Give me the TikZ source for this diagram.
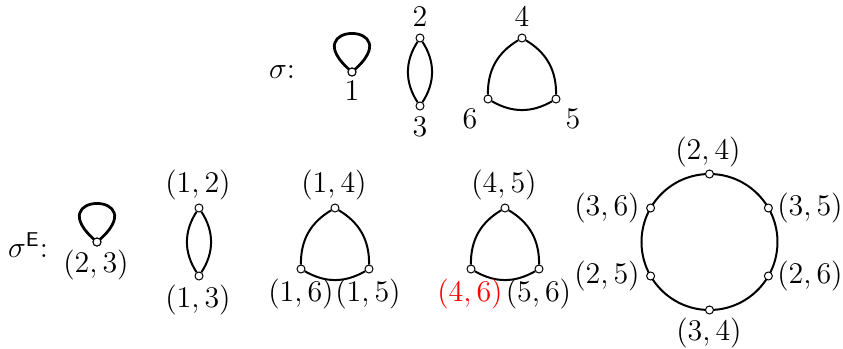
\documentclass[tikz,border=0pt]{standalone}
\usetikzlibrary{calc}
\begin{document}
\begin{tikzpicture}[x=0.4pt,y=-0.4pt,
  font=\fontsize{12}{14}\selectfont,
  vtx/.style={circle,draw,fill=white,inner sep=0pt,minimum size=3.2pt,line width=0.4pt},
  edge/.style={line width=0.8pt},
  loopedge/.style={line width=1.1pt},
  lbl/.style={inner sep=0pt}]
\useasboundingbox (0,0) rectangle (843,348);
% ---------- top row ----------
\node[lbl] (sig) at (282,72) {$\sigma$:};
% loop 1
\node[vtx] (a1) at (352,72) {};
\draw[loopedge] (a1.center) .. controls +(-140:80) and +(-40:80) .. (a1.center);
\node[vtx] at (a1) {};
\node[lbl] (l1) at (352,91) {$1$};
% digon 2-3
\node[vtx] (a2) at (420,38) {};
\node[vtx] (a3) at (420,106) {};
\draw[edge] (a2) to[bend right=33] (a3);
\draw[edge] (a2) to[bend left=33] (a3);
\node[lbl] (l2) at (420,17) {$2$};
\node[lbl] (l3) at (420,127) {$3$};
% triangle 4-5-6
\node[vtx] (a4) at (522,38) {};
\node[vtx] (a6) at (488,99) {};
\node[vtx] (a5) at (556,99) {};
\draw[edge] (a4) to[bend right=30] (a6);
\draw[edge] (a6) to[bend right=30] (a5);
\draw[edge] (a5) to[bend right=30] (a4);
\node[lbl] (l4) at (522,17) {$4$};
\node[lbl] (l6) at (470,119) {$6$};
\node[lbl] (l5) at (573,119) {$5$};
% ---------- bottom row ----------
\node[lbl] (sigE) at (28,245) {$\sigma^{\mathsf{E}}$:};
% loop (2,3)
\node[vtx] (b23) at (97,242) {};
\draw[loopedge] (b23.center) .. controls +(-140:80) and +(-40:80) .. (b23.center);
\node[vtx] at (b23) {};
\node[lbl] (l23) at (96,265) {$(2,3)$};
% digon
\node[vtx] (b12) at (199,208) {};
\node[vtx] (b13) at (199,276) {};
\draw[edge] (b12) to[bend right=33] (b13);
\draw[edge] (b12) to[bend left=33] (b13);
\node[lbl] (l12) at (198,185) {$(1,2)$};
\node[lbl] (l13) at (198,300) {$(1,3)$};
% triangle 1
\node[vtx] (b14) at (335,208) {};
\node[vtx] (b16) at (301,269) {};
\node[vtx] (b15) at (369,269) {};
\draw[edge] (b14) to[bend right=30] (b16);
\draw[edge] (b16) to[bend right=30] (b15);
\draw[edge] (b15) to[bend right=30] (b14);
\node[lbl] (l14) at (334,185) {$(1,4)$};
\node[lbl] (l16) at (301,294) {$(1,6)$};
\node[lbl] (l15) at (368,294) {$(1,5)$};
% triangle 2
\node[vtx] (b45) at (505,208) {};
\node[vtx] (b46) at (471,269) {};
\node[vtx] (b56) at (539,269) {};
\draw[edge] (b45) to[bend right=30] (b46);
\draw[edge] (b46) to[bend right=30] (b56);
\draw[edge] (b56) to[bend right=30] (b45);
\node[lbl] (l45) at (504,185) {$(4,5)$};
\node[lbl,text=red] (l46) at (470,294) {$(4,6)$};
\node[lbl] (l56) at (538.5,294) {$(5,6)$};
% hexagon circle
\coordinate (O) at (709.5,242);
\draw[edge] (O) circle[radius=68pt*0.4];
\foreach \n/\a in {c24/90,c35/30,c26/-30,c34/-90,c25/210,c36/150}{
  \node[vtx] (\n) at ($(O)+(\a:68pt*0.4)$) {};
}
\node[lbl] (l24) at (708,152) {$(2,4)$};
\node[lbl] (l35) at (810,208) {$(3,5)$};
\node[lbl] (l26) at (810,276) {$(2,6)$};
\node[lbl] (l34) at (709,333) {$(3,4)$};
\node[lbl] (l25) at (607,276) {$(2,5)$};
\node[lbl] (l36) at (607,208) {$(3,6)$};
\end{tikzpicture}
\end{document}
